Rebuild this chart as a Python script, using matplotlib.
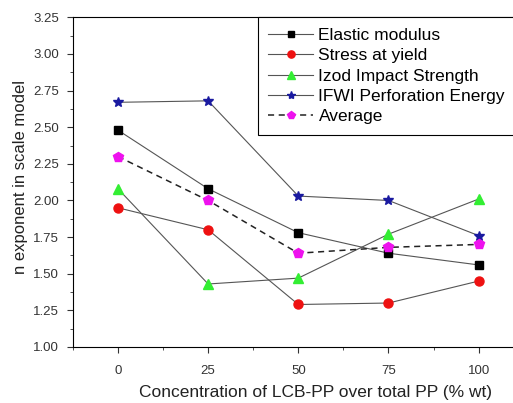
import numpy as np
import matplotlib.pyplot as plt
from matplotlib.ticker import MultipleLocator

plt.rcParams['font.family'] = ['Liberation Sans', 'DejaVu Sans']

conc = [0, 25, 50, 75, 100]
elastic = [2.48, 2.08, 1.78, 1.64, 1.56]
stress = [1.95, 1.80, 1.29, 1.30, 1.45]
izod = [2.08, 1.43, 1.47, 1.77, 2.01]
ifwi = [2.67, 2.68, 2.03, 2.00, 1.76]
average = [2.30, 2.00, 1.64, 1.68, 1.70]

fig = plt.figure(figsize=(5.13, 4.03), dpi=100)
ax = fig.add_axes([0.142, 0.139, 0.879, 0.818])

lw = 0.8
lc = '#555555'
ax.plot(conc, elastic, color=lc, lw=lw, marker='s', mfc='black', mec='black', ms=6, label='Elastic modulus')
ax.plot(conc, stress, color=lc, lw=lw, marker='o', mfc='#ee1111', mec='#ee1111', ms=6.5, label='Stress at yield')
ax.plot(conc, izod, color=lc, lw=lw, marker='^', mfc='#33ee33', mec='#33ee33', ms=7, label='Izod Impact Strength')
ax.plot(conc, ifwi, color=lc, lw=lw, marker='*', mfc='#1a1aa0', mec='#1a1aa0', ms=7.5, label='IFWI Perforation Energy')
ax.plot(conc, average, color='#222222', lw=1.1, ls=(0, (4, 3)), marker='p', mfc='#ee11ee', mec='#ee11ee', ms=7.5, label='Average')

ax.set_xlim(-12.5, 112.5)
ax.set_ylim(1.0, 3.25)
ax.set_xticks(conc)
ax.xaxis.set_minor_locator(MultipleLocator(12.5))
ax.yaxis.set_major_locator(MultipleLocator(0.25))
ax.yaxis.set_minor_locator(MultipleLocator(0.125))
ax.yaxis.set_major_formatter(plt.FormatStrFormatter('%.2f'))
ax.tick_params(which='both', direction='out', top=False, right=False, labelsize=9.5, colors='#333333')
ax.tick_params(which='major', length=4, pad=6)
ax.tick_params(axis='x', which='major', pad=9)
ax.tick_params(which='minor', length=2.5)

ax.set_xlabel('Concentration of LCB-PP over total PP (% wt)', fontsize=12.5, color='#222222', labelpad=6)
ax.xaxis.label.set_x(0.539)
ax.set_ylabel('n exponent in scale model', fontsize=12, color='#222222', labelpad=4)
ax.yaxis.label.set_y(0.517)

leg = ax.legend(loc='upper left', bbox_to_anchor=(0.41, 1.0), borderaxespad=0, fancybox=False,
                fontsize=12.5, handlelength=2.6, handletextpad=0.3, labelspacing=0.3,
                borderpad=0.6, markerscale=0.8, edgecolor='black', framealpha=1)
leg.get_frame().set_linewidth(0.8)

plt.savefig('out.png', dpi=100)
